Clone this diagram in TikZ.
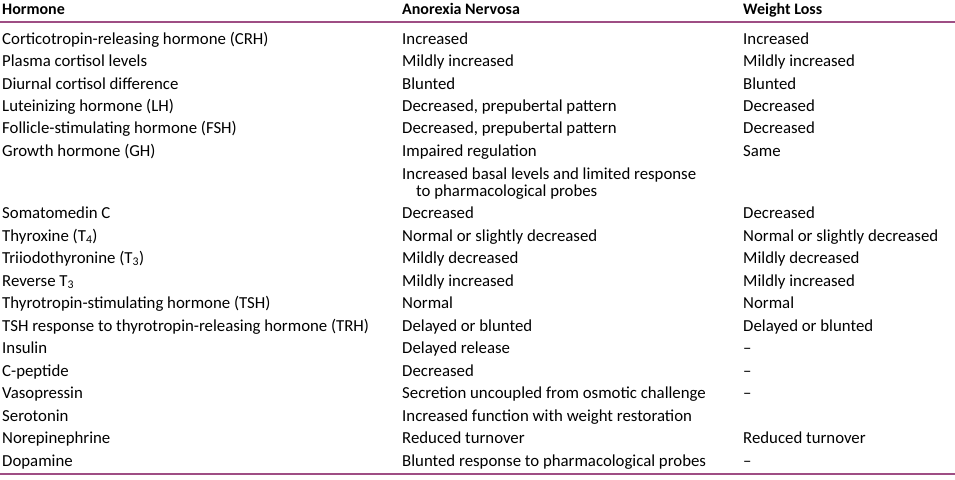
\documentclass[tikz,border=0pt]{standalone}
\usepackage{fontspec}
\setmainfont{Carlito}
\usetikzlibrary{calc}
\definecolor{rulepurple}{RGB}{158,78,132}

\tikzset{
	cell/.style={anchor=base west, inner sep=0pt, font=\fontsize{16.8}{18}\selectfont},
	headcell/.style={anchor=base west, inner sep=0pt, font=\fontsize{16}{18}\selectfont\bfseries},
	rulebar/.style={line width=1.6pt, color=rulepurple}
}

\begin{document}
\begin{tikzpicture}[x=1pt, y=-1pt]
			%%%%% START %%%%%
			
			\useasboundingbox (0, 0) rectangle (955, 479);
			
			\node[headcell] (hh) at (2, 14) {Hormone};
			\node[headcell] (ha) at (402, 14) {Anorexia Nervosa};
			\node[headcell] (hw) at (743, 14) {Weight Loss};
			
			\draw[rulebar] (0, 22) -- (955, 22);
			
			\foreach \y/\hor/\ano/\wl [count=\i] in {
				44/{Corticotropin-releasing hormone (CRH)}/{Increased}/{Increased},
				66/{Plasma cortisol levels}/{Mildly increased}/{Mildly increased},
				89/{Diurnal cortisol difference}/{Blunted}/{Blunted},
				111/{Luteinizing hormone (LH)}/{Decreased, prepubertal pattern}/{Decreased},
				133/{Follicle-stimulating hormone (FSH)}/{Decreased, prepubertal pattern}/{Decreased},
				156/{Growth hormone (GH)}/{Impaired regulation}/{Same},
				218/{Somatomedin C}/{Decreased}/{Decreased},
				241/{Thyroxine (T\textsubscript{4})}/{Normal or slightly decreased}/{Normal or slightly decreased},
				263/{Triiodothyronine (T\textsubscript{3})}/{Mildly decreased}/{Mildly decreased},
				286/{Reverse T\textsubscript{3}}/{Mildly increased}/{Mildly increased},
				308/{Thyrotropin-stimulating hormone (TSH)}/{Normal}/{Normal},
				331/{TSH response to thyrotropin-releasing hormone (TRH)}/{Delayed or blunted}/{Delayed or blunted},
				353/{Insulin}/{Delayed release}/{–},
				376/{C-peptide}/{Decreased}/{–},
				398/{Vasopressin}/{Secretion uncoupled from osmotic challenge}/{–},
				421/{Serotonin}/{Increased function with weight restoration}/{},
				443/{Norepinephrine}/{Reduced turnover}/{Reduced turnover},
				466/{Dopamine}/{Blunted response to pharmacological probes}/{–}}
			{
				\node[cell] (h\i) at (2, \y) {\hor};
				\node[cell] (a\i) at (402, \y) {\ano};
				\node[cell] (w\i) at (743, \y) {\wl};
			}
			
			% second line of growth hormone entry
			\node[cell] (gha) at (402, 179) {Increased basal levels and limited response};
			\node[cell] (ghb) at (416, 196) {to pharmacological probes};
			
			\draw[rulebar] (0, 474) -- (955, 474);
			
			%%%%% END %%%%%
		\end{tikzpicture}
\end{document}
